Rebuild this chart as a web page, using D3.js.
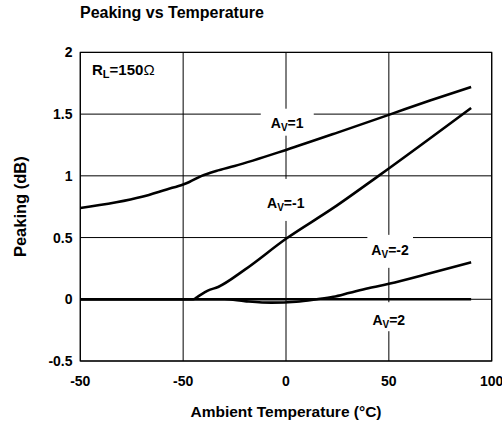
<!DOCTYPE html>
<html>
<head>
<meta charset="utf-8">
<script src="https://cdn.jsdelivr.net/npm/d3@7/dist/d3.min.js"></script>
<style>
    body { margin: 0; background: #fff; }
    svg { font-family: Arial, "Liberation Sans", sans-serif; font-weight: bold; }
</style>
</head>
<body>
<svg id="svg" width="502" height="425"></svg>
<script>
// axis ticks (the source chart labels the first tick "-50" too)
var xTicks = [-100, -50, 0, 50, 100],
    xTickLabels = ['-50', '-50', '0', '50', '100'],
    yTicks = [-0.5, 0, 0.5, 1, 1.5, 2],
    yTickLabels = ['-0.5', '0', '0.5', '1', '1.5', '2'];

// curves, temperature (C) -> peaking (dB)
var av1Temp = [-100, -70, -58, -50, -47, -41, -34, -25, 0, 25, 51, 70, 90],
    av1Peak = [0.74, 0.83, 0.89, 0.93, 0.95, 1.0, 1.04, 1.08, 1.21, 1.35, 1.50, 1.61, 1.72];

var avm1Temp = [-100, -45, -43, -38, -33, -20, 0, 23, 45, 90],
    avm1Peak = [0, 0, 0.02, 0.07, 0.10, 0.24, 0.49, 0.74, 1.0, 1.55];

var avm2Temp = [-100, -30, -20, -7, 5, 15, 23, 31, 40, 50, 70, 90],
    avm2Peak = [0, 0, -0.015, -0.027, -0.02, 0, 0.02, 0.053, 0.09, 0.125, 0.21, 0.30];

var av2Temp = [-100, -50, 0, 50, 90],
    av2Peak = [0, 0, 0, 0, 0];

(function () {

    var margin = {left: 80.3, right: 491.7, top: 52.4, bottom: 361};

    var $svg = d3.select('#svg');

    var x = d3.scaleLinear().domain([-100, 100]).range([margin.left, margin.right]),
        y = d3.scaleLinear().domain([-0.5, 2]).range([margin.bottom, margin.top]);

    var series = [
        {temp: av1Temp, peak: av1Peak},
        {temp: avm1Temp, peak: avm1Peak},
        {temp: avm2Temp, peak: avm2Peak},
        {temp: av2Temp, peak: av2Peak}
    ];

    // grid
    var $grid = $svg.append('g').attr('class', 'grid');
    xTicks.forEach(function (t) {
        $grid.append('line')
            .attr('x1', x(t)).attr('x2', x(t))
            .attr('y1', y(-0.5)).attr('y2', y(2))
            .attr('stroke', '#000').attr('stroke-width', 1);
    });
    yTicks.forEach(function (t) {
        $grid.append('line')
            .attr('x1', x(-100)).attr('x2', x(100))
            .attr('y1', y(t)).attr('y2', y(t))
            .attr('stroke', '#000').attr('stroke-width', 1);
    });

    // curve labels with white boxes that cut the grid
    var labels = [
        {name: '1', t: -7.4, v: 1.39, pad: [10, 6, 3]},
        {name: '-1', t: -9.2, v: 0.74, pad: [4, 16, 8]},
        {name: '-2', t: 41.5, v: 0.36, pad: [4, 7, 8]},
        {name: '2', t: 42, v: -0.21, pad: [4, 10, 1]}
    ];

    var $lines = $svg.append('g').attr('class', 'curves');
    var line = d3.line()
        .x(function (d) { return x(d[0]); })
        .y(function (d) { return y(d[1]); })
        .curve(d3.curveMonotoneX);

    series.forEach(function (s) {
        $lines.append('path')
            .datum(d3.zip(s.temp, s.peak))
            .attr('d', line)
            .attr('fill', 'none')
            .attr('stroke', '#000')
            .attr('stroke-width', 2.6)
            .attr('stroke-linejoin', 'round');
    });

    var $labels = $svg.append('g').attr('class', 'labels');
    labels.forEach(function (l) {
        var $box = $labels.append('rect').attr('fill', '#fff');
        var $t = $labels.append('text')
            .attr('x', x(l.t))
            .attr('y', y(l.v))
            .attr('font-size', 14);
        $t.append('tspan').text('A');
        $t.append('tspan').attr('font-size', 10).attr('dy', 3).text('V');
        $t.append('tspan').attr('dy', -3).text('=' + l.name);
        var b = $t.node().getBBox();
        $box.attr('x', b.x - l.pad[0])
            .attr('y', b.y - l.pad[1])
            .attr('width', b.width + 2 * l.pad[0])
            .attr('height', b.height + l.pad[1] + l.pad[2]);
    });

    // frame
    $svg.append('rect')
        .attr('x', margin.left).attr('y', margin.top)
        .attr('width', margin.right - margin.left)
        .attr('height', margin.bottom - margin.top)
        .attr('fill', 'none').attr('stroke', '#000').attr('stroke-width', 1.2);

    // tick labels
    xTicks.forEach(function (t, i) {
        $svg.append('text')
            .attr('x', x(t)).attr('y', 386)
            .attr('text-anchor', 'middle')
            .attr('font-size', 14)
            .text(xTickLabels[i]);
    });
    yTicks.forEach(function (t, i) {
        $svg.append('text')
            .attr('x', 72.5).attr('y', y(t)).attr('dy', '0.36em')
            .attr('text-anchor', 'end')
            .attr('font-size', 14)
            .text(yTickLabels[i]);
    });

    // titles
    $svg.append('text')
        .attr('x', 80).attr('y', 18)
        .attr('font-size', 16)
        .text('Peaking vs Temperature');

    $svg.append('text')
        .attr('x', (margin.left + margin.right) / 2).attr('y', 417)
        .attr('text-anchor', 'middle')
        .attr('font-size', 15.5)
        .text('Ambient Temperature (\u00B0C)');

    $svg.append('text')
        .attr('transform', 'translate(26,' + (margin.top + margin.bottom) / 2 + ') rotate(-90)')
        .attr('text-anchor', 'middle')
        .attr('font-size', 16.5)
        .text('Peaking (dB)');

    var $rl = $svg.append('text')
        .attr('x', 92).attr('y', 75)
        .attr('font-size', 15);
    $rl.append('tspan').text('R');
    $rl.append('tspan').attr('font-size', 11).attr('dy', 3).text('L');
    $rl.append('tspan').attr('dy', -3).text('=150');
    $rl.append('tspan').attr('font-weight', 'normal').text('\u03A9');

})();
</script>
</body>
</html>
